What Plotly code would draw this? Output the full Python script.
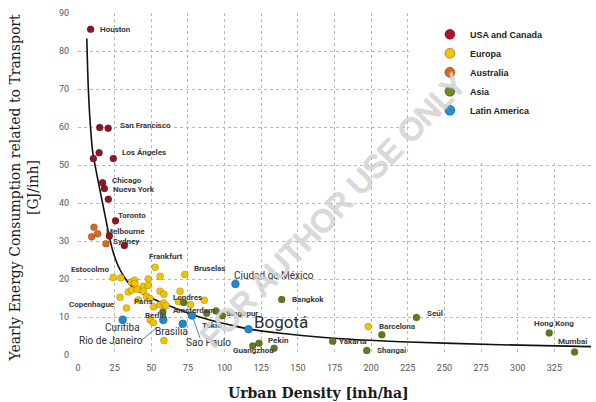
import plotly.graph_objects as go

# ---- data: urban density [inh/ha] vs transport energy [GJ/inh] ----
usa_x = [8.6, 14.8, 20.6, 14.4, 10.5, 24.1, 16.8, 18.0, 20.7, 25.6, 21.4, 31.6]
usa_y = [85.7, 59.9, 59.7, 53.2, 51.7, 51.7, 45.3, 43.8, 41.0, 35.3, 31.3, 28.8]

europe_x = [52.6, 72.8, 24.0, 29.2, 36.4, 38.6, 48.0, 56.0, 44.6, 48.0, 34.3,
            36.6, 40.5, 44.6, 56.0, 58.6, 46.8, 49.1, 28.7, 41.2, 69.6, 68.5,
            86.2, 76.8, 33.0, 51.6, 56.0, 58.4, 49.3, 51.4, 58.6, 198.0, 38.9,
            60.0]
europe_y = [23.1, 21.2, 20.4, 20.3, 19.2, 19.7, 20.0, 20.7, 18.1, 18.3, 16.6,
            17.1, 17.3, 16.8, 16.8, 16.0, 15.4, 14.9, 15.2, 14.5, 16.8, 14.1,
            14.4, 13.3, 12.4, 12.7, 13.2, 13.7, 9.2, 8.5, 3.8, 7.5, 18.8,
            13.0]

australia_x = [10.9, 9.3, 13.4, 19.1]
australia_y = [33.6, 31.1, 31.9, 29.3]

asia_x = [57.9, 72.1, 87.8, 94.2, 98.5, 139.0, 119.2, 123.5, 133.8, 173.8,
          197.0, 207.3, 230.9, 321.5, 338.8]
asia_y = [11.3, 13.8, 11.0, 11.6, 10.3, 14.6, 2.4, 3.1, 1.8, 3.6,
          1.2, 5.3, 9.9, 5.8, 0.8]

latam_x = [30.5, 58.2, 71.5, 77.8, 107.4, 116.3]
latam_y = [9.3, 9.2, 8.2, 10.4, 18.7, 6.8]

# trend curve, read along its path
trend_x = [6.0, 7.0, 8.2, 10.0, 12.3, 14.5, 16.8, 19.1, 21.4, 24.1, 28.7,
           35.5, 43.5, 50.0, 60.5, 74.0, 90.0, 104.0, 117.0, 151.0, 183.0,
           220.0, 288.0, 350.0]
trend_y = [83.3, 70.6, 61.8, 53.5, 48.6, 44.3, 39.9, 35.5, 31.1, 26.9, 22.4,
           18.5, 16.3, 15.0, 13.2, 11.2, 9.2, 7.9, 6.8, 5.2, 4.2,
           3.5, 2.7, 2.2]

groups = [
    ("USA and Canada", usa_x, usa_y, "#8c1628", "#b3122e"),
    ("Europa", europe_x, europe_y, "#f3c300", "#f3c300"),
    ("Australia", australia_x, australia_y, "#d8691f", "#d8691f"),
    ("Asia", asia_x, asia_y, "#627a1e", "#6b8a22"),
    ("Latin America", latam_x, latam_y, "#2288cc", "#2290d2"),
]

x_ticks = [0, 25, 50, 75, 100, 125, 150, 175, 200, 225, 250, 275, 300, 325, 350]
y_ticks = [0, 10, 20, 30, 40, 50, 60, 70, 80, 90]

LABEL_FONT = "Liberation Sans Narrow, Roboto, sans-serif"

fig = go.Figure()

# white panel behind the legend hides the grid there
fig.add_shape(type="rect", xref="x", yref="y", x0=226, x1=360, y0=51, y1=95,
              fillcolor="white", line=dict(width=0), layer="between")

fig.add_trace(go.Scatter(x=trend_x, y=trend_y, mode="lines",
                         line=dict(color="#111111", width=1.6, shape="spline",
                                   smoothing=0.8),
                         showlegend=False, hoverinfo="skip"))

for name, xs, ys, col, legcol in groups:
    size = 8 if name == "Latin America" else 7
    fig.add_trace(go.Scatter(
        x=xs, y=ys, mode="markers", showlegend=False, cliponaxis=False,
        marker=dict(size=size, color=col,
                    line=dict(width=0.5, color="rgba(0,0,0,0.35)"))))
    fig.add_trace(go.Scatter(
        x=[None], y=[None], mode="markers", name=name,
        marker=dict(size=10, color=legcol,
                    line=dict(width=0.8, color="rgba(0,0,0,0.4)"))))

# connector lines from labels to their points
for x0, y0, x1, y1 in [(43.5, 3.9, 53.7, 7.2), (83.3, 4.4, 78.3, 9.9)]:
    fig.add_shape(type="line", xref="x", yref="y", x0=x0, y0=y0, x1=x1, y1=y1,
                  line=dict(color="#4a86b8", width=1))

small_labels = [
    ("Houston", 13.7, 85.7, "left"), ("San Francisco", 27.3, 60.3, "left"),
    ("Los Ángeles", 28.7, 53.4, "left"), ("Chicago", 21.8, 46.0, "left"),
    ("Nueva York", 22.5, 43.6, "left"), ("Toronto", 25.9, 36.8, "left"),
    ("Melbourne", 17.7, 32.6, "left"), ("Sydney", 22.5, 30.0, "left"),
    ("Frankfurt", 60.1, 25.8, "center"), ("Bruselas", 77.8, 22.8, "left"),
    ("Estocolmo", 22.5, 22.4, "right"), ("Copenhague", 26.6, 13.4, "right"),
    ("Paris", 36.9, 14.0, "left"), ("Londres", 63.5, 15.1, "left"),
    ("Amsterdam", 63.5, 11.8, "left"), ("Berlín", 44.4, 10.3, "left"),
    ("Singapur", 99.7, 10.8, "left"), ("Tokio", 83.3, 7.7, "left"),
    ("Bangkok", 144.7, 14.7, "left"), ("Pekín", 128.3, 3.9, "left"),
    ("Guangzhou", 119.8, 1.1, "center"), ("Yakarta", 176.8, 3.5, "left"),
    ("Shangai", 202.7, 1.2, "left"), ("Barcelona", 204.0, 7.4, "left"),
    ("Seúl", 236.9, 10.8, "left"), ("Hong Kong", 324.6, 8.2, "center"),
    ("Mumbai", 337.5, 3.5, "center"),
]
for txt, x, y, anc in small_labels:
    fig.add_annotation(x=x, y=y, text=txt, showarrow=False, xanchor=anc,
                       yanchor="middle",
                       font=dict(family=LABEL_FONT, size=8, color="#3a3a3a",
                                 weight="bold"))

big_labels = [
    ("Curitiba", 30.4, 7.2, 10), ("Rio de Janeiro", 22.2, 3.9, 10),
    ("Brasilia", 63.8, 6.1, 10), ("Sao Paulo", 88.7, 3.2, 10),
    ("Ciudad de México", 133.4, 20.9, 10), ("Bogotá", 138.2, 8.6, 17),
]
for txt, x, y, sz in big_labels:
    fig.add_annotation(x=x, y=y, text=txt, showarrow=False, xanchor="center",
                       yanchor="middle",
                       font=dict(family=LABEL_FONT, size=sz, color="#2e2e2e"))

# diagonal watermark
fig.add_annotation(x=174, y=38.0, xref="x", yref="y", text="FOR AUTHOR USE ONLY",
                   showarrow=False, textangle=-46,
                   font=dict(family="Liberation Sans, Arial, sans-serif", size=31,
                             color="rgba(255,255,255,0.45)",
                             shadow="-0.7px -0.7px 0 #b4b4b4, 0.7px -0.7px 0 #b4b4b4, "
                                    "-0.7px 0.7px 0 #b4b4b4, 0.7px 0.7px 0 #b4b4b4"))

# axis titles
fig.add_annotation(xref="paper", yref="paper", x=-0.105, y=0.49,
                   text="Yearly Energy Consumption related to Transport<br>[GJ/inh]",
                   showarrow=False, textangle=-90, xanchor="center", yanchor="middle",
                   font=dict(family="DejaVu Serif, serif", size=14, color="#1a1a1a"))
fig.add_annotation(xref="paper", yref="paper", x=0.468, y=-0.112,
                   text="<b>Urban Density [inh/ha]</b>", showarrow=False,
                   xanchor="center", yanchor="middle",
                   font=dict(family="DejaVu Serif, serif", size=14, color="#1a1a1a"))

grid = dict(showgrid=True, gridcolor="#b8b8b8", griddash="dot", gridwidth=1,
            zeroline=False, showline=False, ticks="",
            tickfont=dict(family=LABEL_FONT, size=9, color="#555555"))

fig.update_xaxes(range=[0, 350], tickvals=x_ticks, ticklabelstandoff=6, **grid)
fig.update_yaxes(range=[0, 90], tickvals=y_ticks, ticklabelstandoff=8, **grid)

fig.update_layout(
    width=596, height=402,
    margin=dict(l=78, r=5, t=13, b=47),
    paper_bgcolor="white", plot_bgcolor="white",
    legend=dict(x=0.686, y=0.98, xanchor="left", yanchor="top",
                bgcolor="rgba(0,0,0,0)", itemwidth=30,
                font=dict(family="Liberation Sans, Arial, sans-serif", size=9,
                          color="#222222", weight="bold")),
)

fig.write_html("out.html")
